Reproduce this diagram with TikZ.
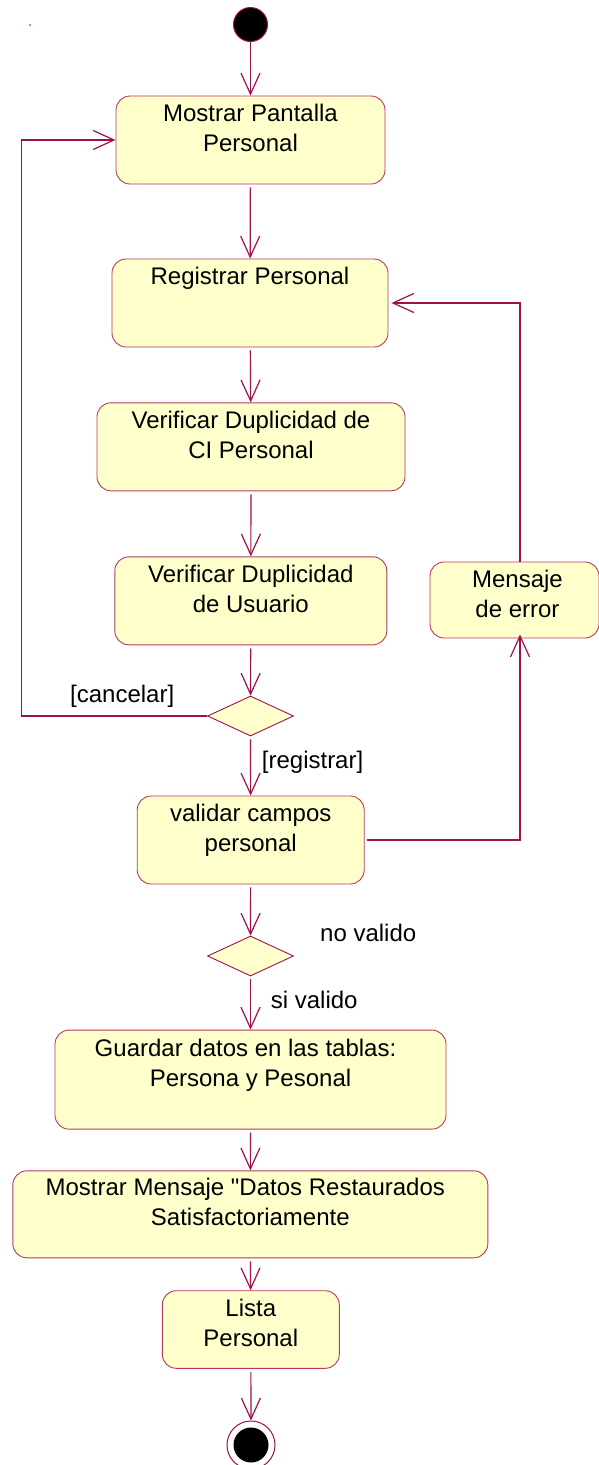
\documentclass[tikz,border=0pt]{standalone}
\usepackage{fontspec}
\setmainfont{Liberation Sans}
\usetikzlibrary{arrows.meta,shapes.geometric,calc}
\definecolor{lnc}{HTML}{A0104A}
\definecolor{bxl}{HTML}{B83A5A}
\definecolor{bxf}{HTML}{FFFFCC}
\begin{document}
\begin{tikzpicture}[x=1pt,y=-1pt,
  every node/.style={font=\fontsize{24}{30}\selectfont},
  actbox/.style={rectangle,rounded corners=14pt,draw=bxl,fill=bxf,line width=0.9pt,inner sep=0pt},
  acttxt/.style={anchor=base,align=center,inner sep=0pt},
  lbl/.style={anchor=base west,inner sep=0pt},
  decis/.style={diamond,draw=lnc,fill=bxf,line width=0.9pt,inner sep=0pt,minimum width=86pt,minimum height=40pt},
  arr/.style={draw=lnc,line width=1.2pt,-{Straight Barb[length=21pt,width=19pt,line width=1.2pt]}},
  gap/.style={shorten <=3pt}]
\useasboundingbox (0,0) rectangle (599,1465);
\fill[lnc] (30,25) circle (0.9pt);
% start
\node[circle,fill=black,draw=lnc,line width=1pt,minimum size=34pt,inner sep=0pt] (start) at (250.5,24.5) {};
% boxes (two-line texts: base anchor sits on the last line)
\node[actbox,minimum width=269pt,minimum height=88pt] (b1) at (250.5,140) {};
\node[acttxt] (t1) at ($(b1.north)+(0,56)$) {Mostrar Pantalla\\Personal};
\node[actbox,minimum width=276pt,minimum height=88pt] (b2) at (250,303) {};
\node[acttxt] (t2) at ($(b2.north)+(0,26)$) {Registrar Personal};
\node[actbox,minimum width=308pt,minimum height=88pt] (b3) at (251,446.8) {};
\node[acttxt] (t3) at ($(b3.north)+(0,56)$) {Verificar Duplicidad de\\CI Personal};
\node[actbox,minimum width=272pt,minimum height=88pt] (b4) at (250.8,600.8) {};
\node[acttxt] (t4) at ($(b4.north)+(0,56)$) {Verificar Duplicidad\\de Usuario};
\node[actbox,minimum width=169pt,minimum height=76pt] (me) at (514.5,600) {};
\node[acttxt] (tme) at ($(me.north)+(3,55.5)$) {Mensaje\\de error};
\node[decis] (d1) at (250.5,716) {};
\node[actbox,minimum width=227pt,minimum height=88pt] (b5) at (250.7,840) {};
\node[acttxt] (t5) at ($(b5.north)+(0,56)$) {validar campos\\personal};
\node[decis] (d2) at (250.5,956) {};
\node[actbox,minimum width=391pt,minimum height=99pt] (b6) at (250.5,1079.6) {};
\node[acttxt] (t6) at ($(b6.north)+(0,56.7)$) {Guardar datos en las tablas:\hspace*{10pt}\\Persona y Pesonal};
\node[actbox,minimum width=475pt,minimum height=87pt] (b7) at (250.3,1214.3) {};
\node[acttxt] (t7) at ($(b7.north)+(0,55)$) {Mostrar Mensaje \textquotedbl Datos Restaurados\hspace*{10pt}\\Satisfactoriamente};
\node[actbox,minimum width=177pt,minimum height=77.6pt] (b8) at (250.8,1329.5) {};
\node[acttxt] (t8) at ($(b8.north)+(0,56)$) {Lista\\Personal};
% end
\node[circle,draw=lnc,fill=white,line width=1pt,minimum size=48pt,inner sep=0pt] (fin) at (251,1445) {};
\node[circle,fill=black,minimum size=35pt,inner sep=0pt] (fin2) at (fin.center) {};
% labels
\node[lbl] (lcan) at (70,702) {[cancelar]};
\node[lbl] (lreg) at (261.7,768) {[registrar]};
\node[lbl] (lnov) at (320,941) {no valido};
\node[lbl] (lsiv) at (270.7,1008.3) {si valido};
% connectors
\coordinate (cl) at (21.7,430);
\draw[arr] (start) -- (b1);
\draw[arr,gap] (b1) -- (b2);
\draw[arr,gap] (b2) -- (b3);
\draw[arr,gap] (b3) -- (b4);
\draw[arr,gap] (b4) -- (d1);
\draw[arr,gap] (d1) -- (b5);
\draw[arr,gap] (b5) -- (d2);
\draw[arr,gap] (d2) -- (b6);
\draw[arr,gap] (b6) -- (b7);
\draw[arr,gap] (b7) -- (b8);
\draw[arr,gap] (b8) -- (fin);
\draw[arr] (d1.west) -| (cl) |- (b1.west);
\draw[arr,shorten <=2pt] (b5.east) -| ([xshift=5.5pt,yshift=4pt]me.south);
\draw[arr] ([xshift=5.5pt]me.north) |- ([xshift=3pt]b2.east);
\end{tikzpicture}
\end{document}
